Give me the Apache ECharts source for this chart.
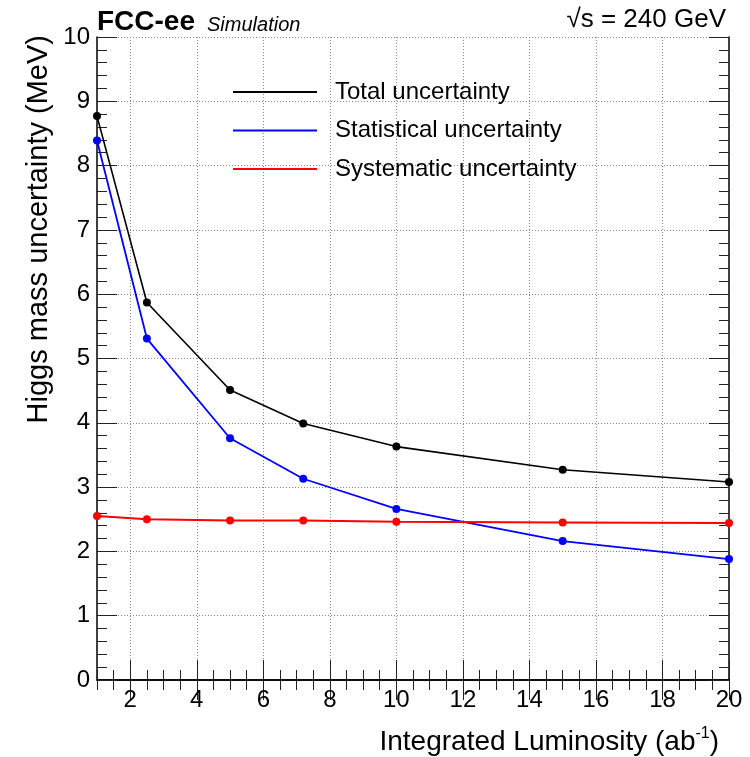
<!DOCTYPE html>
<html>
<head>
<meta charset="utf-8">
<script src="https://cdn.jsdelivr.net/npm/echarts@6/dist/echarts.min.js"></script>
<style>
  html, body { margin: 0; padding: 0; background: #fff; }
  #chart { width: 750px; height: 757px; }
</style>
</head>
<body>
<div id="chart"></div>
<script>
// integrated luminosity points (ab^-1)
const lumi = [1, 2.5, 5, 7.2, 10, 15, 20]
// Higgs mass uncertainty (MeV)
const totalUnc = [8.77, 5.87, 4.51, 3.99, 3.63, 3.27, 3.08]
const statUnc = [8.39, 5.31, 3.76, 3.13, 2.66, 2.16, 1.88]
const systUnc = [2.55, 2.50, 2.48, 2.48, 2.46, 2.45, 2.44]
const xMajorTicks = [2, 4, 6, 8, 10, 12, 14, 16, 18, 20]

const FONT = 'Liberation Sans, Arial, Helvetica, sans-serif'
const gridBox = { left: 97, top: 37, right: 21, bottom: 77 }
// same box but starting one x unit further left, so x=0 lies at its edge
// (used only for the dotted vertical grid at even x values)
const unitPx = (750 - gridBox.left - gridBox.right) / 19
const gridBoxFromZero = { left: gridBox.left - unitPx, top: 37, right: 21, bottom: 77 }

const pairs = (ys) => lumi.map((x, i) => [x, ys[i]])

const chart = echarts.init(document.getElementById('chart'), null, { renderer: 'canvas' })

const frameLine = { show: true, lineStyle: { color: '#000', width: 1.5 } }
const dotted = { show: true, lineStyle: { color: '#888', width: 1, type: [1, 2] } }
const tickStyle = { color: '#222', width: 1 }

// major x axis (labels, long ticks)
const xMajor = (position, withLabels) => ({
    type: 'value',
    gridIndex: 0,
    position: position,
    min: 1,
    max: 20,
    interval: 1,
    axisLine: frameLine,
    axisTick: { show: true, inside: true, length: 20, customValues: xMajorTicks, lineStyle: tickStyle },
    axisLabel: {
        show: withLabels,
        customValues: xMajorTicks,
        margin: 8,
        color: '#000',
        fontSize: 24,
        fontFamily: FONT
    },
    splitLine: { show: false },
    name: withLabels ? '{t|Integrated Luminosity (ab}{s|-1}{t|)}' : '',
    nameLocation: 'end',
    nameGap: -10,
    nameTextStyle: {
        align: 'right',
        verticalAlign: 'top',
        padding: [46, 0, 0, 0],
        rich: {
            t: { fontSize: 28, lineHeight: 30, fontFamily: FONT, color: '#000', verticalAlign: 'bottom' },
            s: { fontSize: 16, lineHeight: 30, fontFamily: FONT, color: '#000', verticalAlign: 'top' }
        }
    }
})

// minor x ticks every 0.5, on a second grid covering the same area
const xMinor = (position) => ({
    type: 'value',
    gridIndex: 1,
    position: position,
    min: 1,
    max: 20,
    interval: 0.5,
    axisLine: { show: false },
    axisTick: { show: true, inside: true, length: 10, lineStyle: tickStyle },
    axisLabel: { show: false },
    splitLine: { show: false }
})

// vertical dotted grid lines at even x
const xGridLines = {
    type: 'value',
    gridIndex: 2,
    position: 'bottom',
    min: 0,
    max: 20,
    interval: 2,
    axisLine: { show: false },
    axisTick: { show: false },
    axisLabel: { show: false },
    splitLine: Object.assign({ showMinLine: false, showMaxLine: false }, dotted)
}

const yMain = (position, withLabels) => ({
    type: 'value',
    gridIndex: 0,
    position: position,
    min: 0,
    max: 10,
    interval: 1,
    axisLine: frameLine,
    axisTick: { show: true, inside: true, length: 20, lineStyle: tickStyle },
    minorTick: { show: true, splitNumber: 5, length: 10, lineStyle: tickStyle },
    axisLabel: { show: withLabels, margin: 7, color: '#000', fontSize: 24, fontFamily: FONT },
    splitLine: withLabels ? dotted : { show: false },
    name: withLabels ? 'Higgs mass uncertainty (MeV)' : '',
    nameLocation: 'end',
    nameRotate: 90,
    nameGap: 2,
    nameTextStyle: {
        align: 'right',
        verticalAlign: 'bottom',
        padding: [0, 0, 44, 0],
        fontSize: 29,
        fontFamily: FONT,
        color: '#000'
    }
})

const yHidden = (gridIndex, position) => ({
    type: 'value', gridIndex: gridIndex, position: position, min: 0, max: 10, show: false
})

const lineSeries = (name, ys, color, width) => ({
    name: name,
    type: 'line',
    xAxisIndex: 0,
    yAxisIndex: 0,
    data: pairs(ys),
    clip: false,
    symbol: 'circle',
    symbolSize: 8,
    lineStyle: { color: color, width: width },
    itemStyle: { color: color },
    emphasis: { disabled: true },
    z: 5
})

const option = {
    backgroundColor: '#fff',
    animation: false,
    textStyle: { fontFamily: FONT },
    title: [
        { text: 'FCC-ee', left: 97, top: 8, padding: 0, textStyle: { fontSize: 28, fontWeight: 'bold', fontFamily: FONT, color: '#000' } },
        { text: 'Simulation', left: 207, top: 15, padding: 0, textStyle: { fontSize: 20, fontStyle: 'italic', fontWeight: 'normal', fontFamily: FONT, color: '#000' } },
        { text: '√s = 240 GeV', right: 24, top: 7, padding: 0, textStyle: { fontSize: 26, fontWeight: 'normal', fontFamily: FONT, color: '#000' } }
    ],
    legend: {
        left: 233,
        top: 80,
        padding: 0,
        orient: 'vertical',
        icon: 'rect',
        itemWidth: 84,
        itemHeight: 2,
        itemGap: 14.5,
        selectedMode: false,
        textStyle: { fontSize: 24, lineHeight: 24, fontFamily: FONT, color: '#000', padding: [0, 0, 0, 13] },
        data: ['Total uncertainty', 'Statistical uncertainty', 'Systematic uncertainty']
    },
    grid: [
        Object.assign({}, gridBox),
        Object.assign({}, gridBox),
        Object.assign({}, gridBoxFromZero)
    ],
    xAxis: [xMajor('bottom', true), xMajor('top', false), xMinor('bottom'), xMinor('top'), xGridLines],
    yAxis: [yMain('left', true), yMain('right', false), yHidden(1, 'left'), yHidden(1, 'right'), yHidden(2, 'left')],
    series: [
        lineSeries('Total uncertainty', totalUnc, '#000000', 1.6),
        lineSeries('Statistical uncertainty', statUnc, '#0000ff', 1.8),
        lineSeries('Systematic uncertainty', systUnc, '#ff0000', 2)
    ]
}

chart.setOption(option)
</script>
</body>
</html>
